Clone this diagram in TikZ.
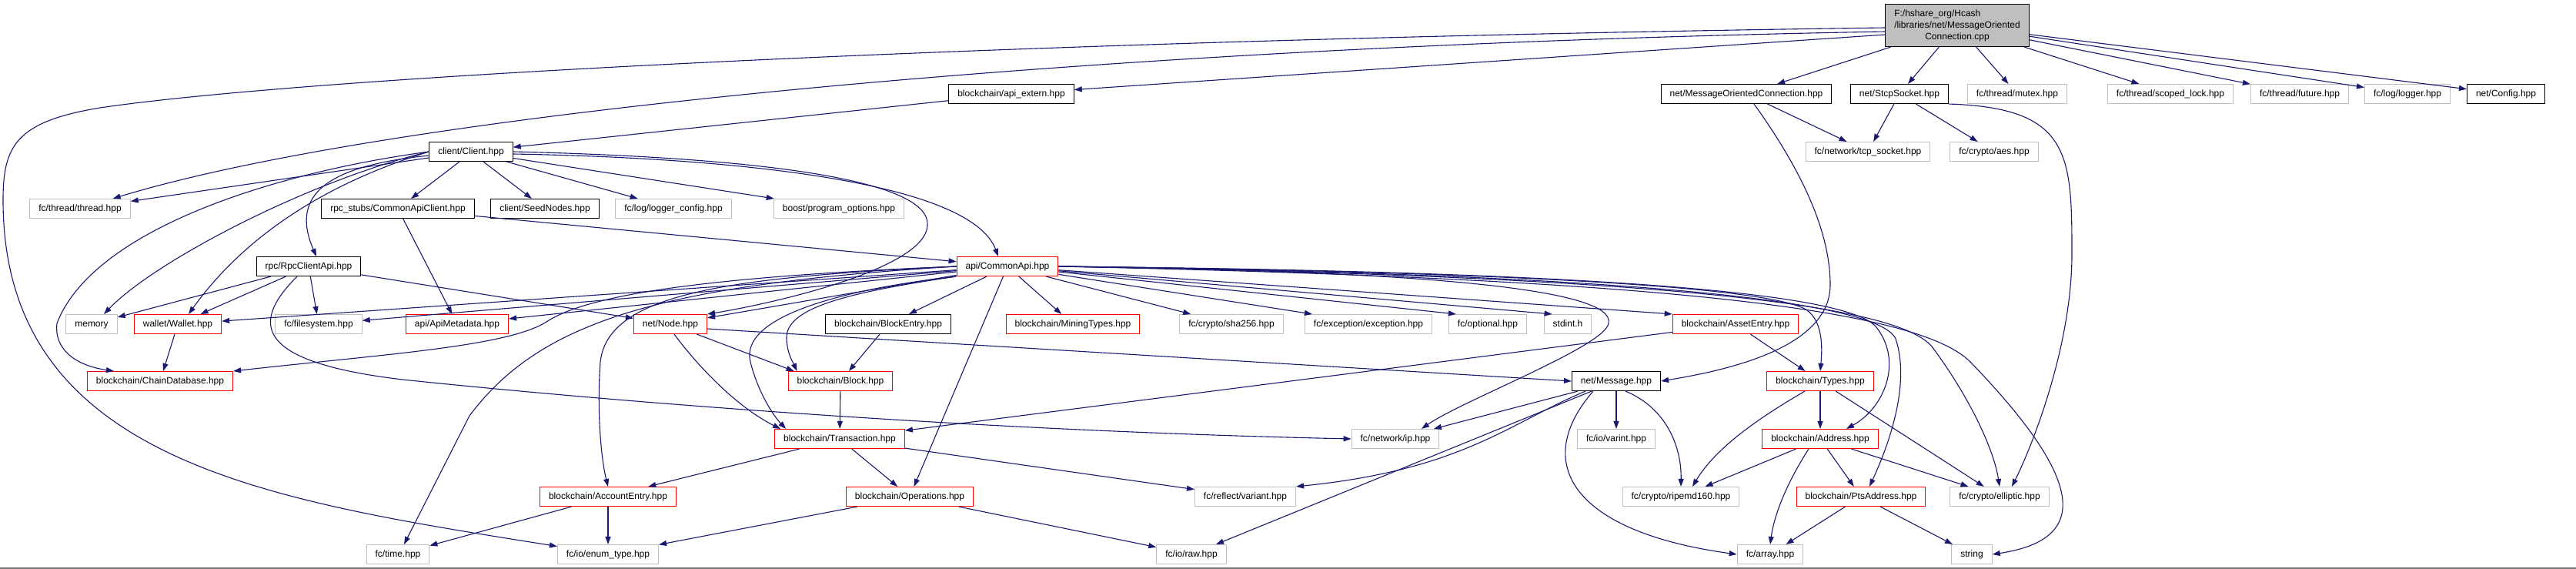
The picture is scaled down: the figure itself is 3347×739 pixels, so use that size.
\documentclass[tikz,border=0pt]{standalone}
\usepackage{fontspec}
\setmainfont{Liberation Sans}
\usetikzlibrary{arrows.meta}
\definecolor{incEdge}{RGB}{25,25,112}
\definecolor{incRed}{RGB}{255,0,0}
\definecolor{incGrey}{RGB}{191,191,191}

\begin{document}
\begin{tikzpicture}[
  x=1pt, y=-1pt,
  box/.style={
    draw,
    rectangle,
    inner xsep=11.5pt,
    inner ysep=0pt,
    line width=1.1pt,
    font=\fontsize{12}{15}\selectfont
  },
  hdr/.style={box, minimum height=25pt, text height=9pt, text depth=2.5pt},
  doc/.style={hdr, draw=black},
  trunc/.style={hdr, draw=incRed},
  ext/.style={hdr, draw=incGrey},
  srcfile/.style={box, draw=black, fill=incGrey, minimum height=55pt},
  dep/.style={-{Triangle[length=10pt,width=7pt]}, line width=1.1pt, incEdge}
]
  \fill[white] (0,0) rectangle (3347,739);
  \useasboundingbox (0,0) rectangle (3347,739);
  \draw[black!55, line width=2pt] (0,738) -- (3347,738);

  \node[srcfile] (root) at (2543,33) {\begin{tabular}{@{}l@{}}F:/hshare\_org/Hcash\\/libraries/net/MessageOriented\\\multicolumn{1}{@{}c@{}}{Connection.cpp}\end{tabular}};

  \node[doc] (apiext) at (1314,122) {blockchain/api\_extern.hpp};
  \node[doc] (mochpp) at (2269,122) {net/MessageOrientedConnection.hpp};
  \node[doc] (stcp) at (2468,122) {net/StcpSocket.hpp};
  \node[ext] (mutex) at (2621,122) {fc/thread/mutex.hpp};
  \node[ext] (scoped) at (2820,122) {fc/thread/scoped\_lock.hpp};
  \node[ext] (future) at (2988,122) {fc/thread/future.hpp};
  \node[ext] (logger) at (3128,122) {fc/log/logger.hpp};
  \node[doc] (config) at (3256,122) {net/Config.hpp};

  \node[doc] (client) at (612,197) {client/Client.hpp};
  \node[ext] (tcpsock) at (2427,197) {fc/network/tcp\_socket.hpp};
  \node[ext] (aes) at (2591,197) {fc/crypto/aes.hpp};

  \node[ext] (thread) at (104,271) {fc/thread/thread.hpp};
  \node[doc] (capiclient) at (517,271) {rpc\_stubs/CommonApiClient.hpp};
  \node[doc] (seednodes) at (708,271) {client/SeedNodes.hpp};
  \node[ext] (logcfg) at (875,271) {fc/log/logger\_config.hpp};
  \node[ext] (progopt) at (1090,271) {boost/program\_options.hpp};

  \node[doc] (rpcapi) at (401,346) {rpc/RpcClientApi.hpp};
  \node[trunc] (commonapi) at (1309,346) {api/CommonApi.hpp};

  \node[ext] (memory) at (119,421) {memory};
  \node[trunc] (wallet) at (231,421) {wallet/Wallet.hpp};
  \node[ext] (filesys) at (414,421) {fc/filesystem.hpp};
  \node[trunc] (apimeta) at (594,421) {api/ApiMetadata.hpp};
  \node[trunc] (node) at (871,421) {net/Node.hpp};
  \node[doc] (blockentry) at (1154,421) {blockchain/BlockEntry.hpp};
  \node[trunc] (mining) at (1394,421) {blockchain/MiningTypes.hpp};
  \node[ext] (sha) at (1600,421) {fc/crypto/sha256.hpp};
  \node[ext] (exception) at (1778,421) {fc/exception/exception.hpp};
  \node[ext] (optional) at (1933,421) {fc/optional.hpp};
  \node[ext] (stdint) at (2037,421) {stdint.h};
  \node[trunc] (asset) at (2255,421) {blockchain/AssetEntry.hpp};

  \node[trunc] (chaindb) at (208,495) {blockchain/ChainDatabase.hpp};
  \node[trunc] (block) at (1092,495) {blockchain/Block.hpp};
  \node[doc] (message) at (2100,495) {net/Message.hpp};
  \node[trunc] (types) at (2365,495) {blockchain/Types.hpp};

  \node[trunc] (transaction) at (1091,570) {blockchain/Transaction.hpp};
  \node[ext] (ip) at (1813,570) {fc/network/ip.hpp};
  \node[ext] (varint) at (2100,570) {fc/io/varint.hpp};
  \node[trunc] (address) at (2365,570) {blockchain/Address.hpp};

  \node[trunc] (accountentry) at (790,645) {blockchain/AccountEntry.hpp};
  \node[trunc] (operations) at (1182,645) {blockchain/Operations.hpp};
  \node[ext] (variant) at (1618,645) {fc/reflect/variant.hpp};
  \node[ext] (ripemd) at (2184,645) {fc/crypto/ripemd160.hpp};
  \node[trunc] (ptsaddress) at (2418,645) {blockchain/PtsAddress.hpp};
  \node[ext] (elliptic) at (2598,645) {fc/crypto/elliptic.hpp};

  \node[ext] (time) at (517,720) {fc/time.hpp};
  \node[ext] (enumtype) at (790,720) {fc/io/enum\_type.hpp};
  \node[ext] (raw) at (1548,720) {fc/io/raw.hpp};
  \node[ext] (array) at (2300,720) {fc/array.hpp};
  \node[ext] (string) at (2562,720) {string};

  \draw[dep] ([yshift=-12pt]root.west) -- (apiext);
  \draw[dep] ([yshift=-8pt]root.west) .. controls (1400,60) and (500,150) .. (thread);
  \draw[dep] ([yshift=-3pt]root.west) .. controls (1300,52) and (400,100) .. (130,140)
    .. controls (20,158) and (4,190) .. (4,260) .. controls (4,600) and (350,650) .. (enumtype);
  \draw[dep] (root) -- (mochpp);
  \draw[dep] (root) -- (stcp);
  \draw[dep] (root) -- (mutex);
  \draw[dep] (root) -- (scoped);
  \draw[dep] (root) -- (future);
  \draw[dep] (root) -- (logger);
  \draw[dep] (root) -- (config);

  \draw[dep] (apiext) -- (client);
  \draw[dep] (client) -- (thread);
  \draw[dep] ([xshift=-15pt]client.south) -- (capiclient);
  \draw[dep] ([xshift=16pt]client.south) -- (seednodes);
  \draw[dep] (client) -- (logcfg);
  \draw[dep] (client) -- (progopt);
  \draw[dep] ([yshift=-3pt]client.east) .. controls (950,205) and (1260,235) .. ([xshift=-12pt]commonapi.north);
  \draw[dep] (client.east) .. controls (1000,205) and (1210,235) .. (1205,293)
    .. controls (1202,350) and (1000,395) .. (node.north east);
  \draw[dep] ([yshift=-5pt]client.west) .. controls (430,215) and (375,250) .. ([xshift=10pt]rpcapi.north);
  \draw[dep] (client.west) .. controls (400,235) and (200,340) .. ([xshift=16pt]memory.north);
  \draw[dep] (client.west) .. controls (450,230) and (330,290) .. ([xshift=14pt]wallet.north);
  \draw[dep] (client.west) .. controls (350,225) and (120,300) .. (74,420)
    .. controls (70,455) and (100,475) .. ([xshift=-60pt]chaindb.north);

  \draw[dep] (capiclient) -- (apimeta);
  \draw[dep] (capiclient) -- (commonapi);

  \draw[dep] (rpcapi) -- (memory);
  \draw[dep] (rpcapi) -- (wallet);
  \draw[dep] (rpcapi) -- (filesys);
  \draw[dep] ([xshift=-15pt]rpcapi.south) .. controls (325,420) and (330,470) .. (523,493)
    .. controls (850,527) and (1300,560) .. (ip.west);
  \draw[dep] (rpcapi) -- (node);

  \draw[dep] (commonapi) -- (wallet);
  \draw[dep] (commonapi) -- (filesys);
  \draw[dep] (commonapi.west) .. controls (900,360) and (760,385) .. (710,418)
    .. controls (660,450) and (500,460) .. (chaindb.north east);
  \draw[dep] (commonapi) -- (apimeta);
  \draw[dep] (commonapi) -- (node);
  \draw[dep] (commonapi.west) .. controls (950,360) and (790,380) .. (780,470)
    .. controls (775,540) and (782,600) .. (accountentry.north);
  \draw[dep] (commonapi.west) .. controls (850,370) and (700,420) .. (610,540) -- ([xshift=8pt]time.north);
  \draw[dep] (commonapi.south west) .. controls (1100,375) and (960,410) .. (975,470)
    .. controls (985,510) and (1005,540) .. ([xshift=15pt]transaction.north west);
  \draw[dep] (commonapi.south west) .. controls (1100,380) and (1020,400) .. (1022,440)
    .. controls (1023,460) and (1030,470) .. ([xshift=12pt]block.north west);
  \draw[dep] (commonapi) -- (blockentry);
  \draw[dep] (commonapi) -- (operations);
  \draw[dep] (commonapi) -- (mining);
  \draw[dep] (commonapi) -- ([xshift=15pt]sha.north west);
  \draw[dep] (commonapi) -- ([xshift=10pt]exception.north west);
  \draw[dep] (commonapi) -- ([xshift=10pt]optional.north west);
  \draw[dep] (commonapi) -- ([xshift=11pt]stdint.north west);
  \draw[dep] (commonapi) -- (asset.north west);
  \draw[dep] (commonapi.east) .. controls (1850,352) and (2100,375) .. (2090,420)
    .. controls (2085,450) and (1900,520) .. ([xshift=34pt]ip.north);
  \draw[dep] (commonapi.east) .. controls (1900,352) and (2300,370) .. (2348,403)
    .. controls (2368,418) and (2368,450) .. (types.north);
  \draw[dep] (commonapi.east) .. controls (2000,352) and (2398,375) .. (2438,425)
    .. controls (2473,470) and (2448,530) .. ([xshift=34pt]address.north);
  \draw[dep] (commonapi.east) .. controls (2050,355) and (2438,385) .. (2463,440)
    .. controls (2483,500) and (2453,580) .. ([xshift=11pt]ptsaddress.north);
  \draw[dep] (commonapi.east) .. controls (2100,358) and (2460,390) .. (2510,450)
    .. controls (2555,510) and (2590,580) .. (elliptic.north);
  \draw[dep] (commonapi.east) .. controls (2150,362) and (2490,400) .. (2560,470)
    .. controls (2705,620) and (2720,700) .. (string.east);

  \draw[dep] (mochpp) -- (tcpsock);
  \draw[dep] ([xshift=10pt]mochpp.south) .. controls (2340,220) and (2378,300) .. (2378,370)
    .. controls (2378,450) and (2250,480) .. (message.east);
  \draw[dep] (stcp) -- (tcpsock);
  \draw[dep] (stcp) -- (aes);
  \draw[dep] (stcp.south east) .. controls (2690,140) and (2692,200) .. (2692,330)
    .. controls (2692,450) and (2640,580) .. ([xshift=16pt]elliptic.north);

  \draw[dep] ([yshift=-6pt]node.east) -- (message.west);
  \draw[dep] (node) -- ([xshift=8pt]block.north west);
  \draw[dep] ([xshift=5pt]node.south) .. controls (910,480) and (960,530) .. ([xshift=8pt]transaction.north west);
  \draw[dep] (blockentry) -- (block);
  \draw[dep] (block) -- (transaction);
  \draw[dep] (transaction) -- (accountentry);
  \draw[dep] (transaction) -- (operations);
  \draw[dep] (transaction) -- (variant);
  \draw[dep] (asset) -- (transaction);
  \draw[dep] (asset) -- (types);

  \draw[dep] (message) -- (ip);
  \draw[dep] (message) -- (varint);
  \draw[dep] ([xshift=-40pt]message.south) .. controls (1960,550) and (1900,610) .. (variant.north east);
  \draw[dep] (message) -- (raw);
  \draw[dep] ([xshift=12pt]message.south) .. controls (2165,530) and (2185,580) .. (ripemd.north);
  \draw[dep] ([xshift=-30pt]message.south) .. controls (1990,600) and (2040,690) .. (array.west);

  \draw[dep] ([xshift=-20pt]types.south) .. controls (2290,540) and (2230,580) .. ([xshift=15pt]ripemd.north);
  \draw[dep] (types) -- (address);
  \draw[dep] (types) -- (elliptic);
  \draw[dep] (address) -- (ripemd);
  \draw[dep] ([xshift=-15pt]address.south) .. controls (2320,630) and (2305,670) .. (array.north);
  \draw[dep] (address) -- (ptsaddress);
  \draw[dep] (address) -- (elliptic);
  \draw[dep] (ptsaddress) -- (array);
  \draw[dep] (ptsaddress) -- (string);

  \draw[dep] (accountentry) -- (time);
  \draw[dep] (accountentry) -- (enumtype);
  \draw[dep] (operations) -- (enumtype);
  \draw[dep] (operations) -- (raw);
  \draw[dep] (wallet) -- (chaindb);
\end{tikzpicture}
\end{document}
